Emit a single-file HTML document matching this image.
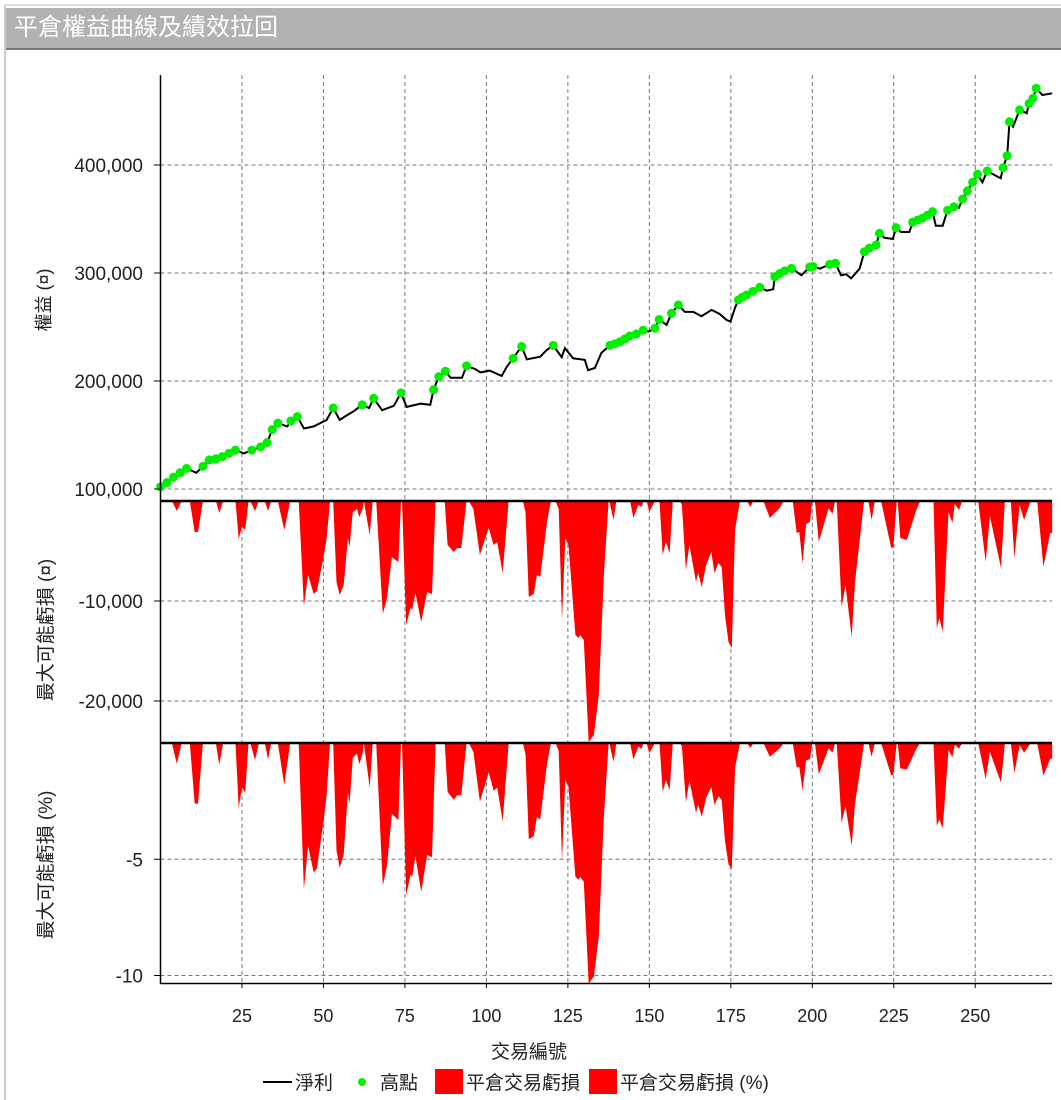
<!DOCTYPE html>
<html><head><meta charset="utf-8">
<style>
body{margin:0;background:#fff;width:1061px;height:1100px;overflow:hidden;font-family:"Liberation Sans","Noto Sans CJK TC",sans-serif;}
#title{position:absolute;left:6px;top:8px;width:1055px;height:42px;background:#b2b2b2;border-bottom:2px solid #777;color:#fff;font-size:24px;line-height:40px;padding-left:8px;box-sizing:border-box;font-family:"Liberation Sans","Noto Sans CJK TC",sans-serif;}
#frame{position:absolute;left:4px;top:4px;width:1057px;height:1096px;border-left:2px solid #ccc;border-top:2px solid #ddd;box-sizing:border-box;}
svg{position:absolute;left:0;top:0}
text{font-family:"Liberation Sans","Noto Sans CJK TC",sans-serif;fill:#222}
</style></head><body>
<div id="frame"></div>
<div id="title">平倉權益曲線及績效拉回</div>
<svg id="chart" width="1061" height="1100"></svg>
<script>
const xTicks=[25,50,75,100,125,150,175,200,225,250];
const eqTicks=[100000,200000,300000,400000];
const eqTickLabels=["100,000","200,000","300,000","400,000"];
const ddTicks=[-10000,-20000];
const ddTickLabels=["-10,000","-20,000"];
const pctTicks=[-5,-10];
const pctTickLabels=["-5","-10"];
const eqTrade=[0,2,4,6,8,11,13,15,17,19,21,23,25.6,28,30.7,32.7,34.3,36,38.9,40,42,44,47,51,53,55,57,59.3,61.9,64,65.4,68,71.6,73.8,75.5,79.8,82.8,83.8,85.4,87.4,89,92.5,93.9,96.6,98.2,101,104.7,106.2,108.2,110.8,112.4,116.5,118.5,120.5,123.1,124.1,126.6,130.2,131.2,133.3,135.3,137.9,139.5,141,142.5,144,146,148.1,149.7,151.7,153,155.3,156.8,158.9,160.9,163.5,166,169.1,171.6,173.7,174.9,176.3,177.3,178.5,179.8,181.8,183.9,186,188,188.5,190,191.5,193.6,196.7,199.2,200.2,202.3,205.3,207.1,208.8,210.4,211.9,214.5,216,217.5,219.6,220.6,222.1,224.7,225.7,227.2,229.8,230.8,232.3,233.8,235.3,236.9,237.9,240,241.5,243.5,245,246.1,247.6,249.2,250.7,252.2,253.7,255.8,257.8,258.5,259.8,260.5,261.6,263.6,265.8,266.5,267.7,268.7,270.6,273.6];
const eqValue=[102000,106000,111000,115000,119000,115000,121000,127000,128000,130000,133000,136000,133000,136000,139000,143000,155000,161000,158000,163000,167000,156000,158000,164000,175000,164000,168000,172000,178000,175000,184000,173000,177000,189000,176000,179000,178000,192000,204000,209000,203000,203000,214000,211000,208000,209600,204600,213000,221000,232000,220000,222500,228700,233000,222000,230500,221000,219500,210000,212000,226000,233000,234500,236400,239000,241700,243500,247000,245700,248800,257000,251900,262700,270400,264000,264000,260000,265800,262000,256500,255000,268000,275000,277500,279600,283000,286700,283600,285000,296600,299500,302000,304300,298000,305500,306000,304000,308000,309000,298000,298800,295000,304000,319700,323000,326000,336800,332700,331500,342000,338000,338000,347000,349000,350700,353500,356800,343800,343800,358000,361400,360500,368500,376000,384000,391400,384000,394500,390800,387700,397500,408600,440000,435500,451000,448000,457000,461800,471000,464800,466400];
const ddTrade=[0,3.5,5,6.5,9,10.5,11.5,13,17,18,19.2,23,24,25,26,27,27.6,29,30.2,32,33,34,36,38,39.8,42.4,44,45.3,47,48,50,51,52,53,54,55,56.2,57.5,58,59,60.3,61,62,62.4,64.2,65.1,66.2,68.2,69.5,71,73,73.8,74.1,75.4,76.7,77.2,78.2,80,81.8,83.3,84.4,87.2,88.1,90,91,92.3,93.9,94.6,96,98,100.7,102.2,103.3,105,106.8,111.2,112,113,114.5,115.5,116.5,118.6,119.8,121.2,122.2,123.2,124.2,125.2,127.3,128.3,128.8,129.9,131.4,133,134.5,136,137.5,137.7,139,139.9,144.1,145.1,146.6,147.7,148.1,149.2,150,151.7,153.1,154.1,155.1,156.2,157.2,159.4,160,161.2,162.3,164.3,165,166.1,167.4,169,170,171.2,172.2,173.2,174.3,175.3,176.3,177.8,180,181,181.9,185,187,190,191.2,194,195.2,196,197,198.1,199.3,200,200.8,202,205,206.2,207,207.5,209,210.2,212.1,213.1,215.9,217.2,218.2,219.2,221.1,224.2,224.9,225.9,226.2,227,229,231.9,233.1,237.2,238.2,239,240,241.8,243,243.7,245,246,250.9,253.2,254.5,257.9,259.1,260.9,262,263.6,265,267,269,270.9,273,273.6];
const ddValue=[0,0,-1000,0,0,-3100,-3100,0,0,-1200,0,0,-3800,-2600,-2900,0,0,-1000,0,0,-1000,0,0,-2900,0,0,-10500,-7400,-9300,-9000,-5700,-3700,0,0,-8100,-9400,-8400,-3700,-4600,-1100,-800,-1600,-800,0,-3400,0,0,-11300,-9700,-5600,-6100,0,0,-12400,-10700,-10900,-9200,-12100,-9100,-9300,0,0,-4400,-5100,-4700,-4700,0,0,-800,-5400,-2700,-4400,-4100,-7200,0,0,-1100,-9600,-9300,-7400,-7600,-2100,0,0,-800,-11900,-3700,-4400,-13400,-13700,-13400,-13900,-24100,-23400,-19400,-7700,0,0,-1900,0,0,-1700,-400,-600,0,0,-1100,0,0,-5400,-4100,-5200,0,0,-400,-6900,-4400,-8100,-7200,-8600,-6400,-5100,-7200,-6200,-6600,-11400,-14100,-14700,-2800,0,0,-600,0,0,-1700,-700,0,0,-3200,-3100,-6200,-2300,-2100,0,0,-4100,-700,-1300,0,0,-10600,-8400,-13600,-8100,0,0,-1900,0,0,-4700,-4600,0,0,-3700,-3900,-900,0,0,-12700,-11700,-13100,-1100,-2200,-300,-900,0,0,-6100,-1500,-6700,0,0,-5700,-400,-1900,0,0,-6600,-3200,-3200];

const NS="http://www.w3.org/2000/svg";
const svg=document.getElementById('chart');
const L=160.5,R=1052;
const X=t=>L+t*3.259;
const Yeq=v=>489-(v-100000)*108/100000;
const Ydd=v=>501-v*0.01;
const Ypct=v=>743-v*23.25;
function mk(tag,attrs,parent){const e=document.createElementNS(NS,tag);for(const k in attrs)e.setAttribute(k,attrs[k]);(parent||svg).appendChild(e);return e;}
function peakAt(t){let m=0;for(let i=0;i<eqTrade.length&&eqTrade[i]<=t;i++)m=Math.max(m,eqValue[i]);return m||eqValue[0];}

// grid
const grid=mk('g',{});


xTicks.forEach(t=>{mk('line',{x1:X(t),x2:X(t),y1:75,y2:983,stroke:'#777','stroke-dasharray':'4,3','stroke-width':1},grid);});
eqTicks.forEach(v=>{mk('line',{x1:L,x2:R,y1:Yeq(v),y2:Yeq(v),stroke:'#777','stroke-dasharray':'4,3'},grid);});
ddTicks.forEach(v=>{mk('line',{x1:L,x2:R,y1:Ydd(v),y2:Ydd(v),stroke:'#777','stroke-dasharray':'4,3'},grid);});
pctTicks.forEach(v=>{mk('line',{x1:L,x2:R,y1:Ypct(v),y2:Ypct(v),stroke:'#777','stroke-dasharray':'4,3'},grid);});

// drawdown areas
let d='M'+X(ddTrade[0])+','+Ydd(0);
ddTrade.forEach((t,i)=>{d+=' L'+X(t).toFixed(1)+','+Ydd(ddValue[i]).toFixed(1);});
d+=' L'+X(ddTrade[ddTrade.length-1])+','+Ydd(0)+'Z';
const dd=mk('path',{d:d,fill:'#ff0000'});


let p='M'+X(ddTrade[0])+','+Ypct(0);
ddTrade.forEach((t,i)=>{p+=' L'+X(t).toFixed(1)+','+Ypct(ddValue[i]/peakAt(t)*100).toFixed(1);});
p+=' L'+X(ddTrade[ddTrade.length-1])+','+Ypct(0)+'Z';
const pc=mk('path',{d:p,fill:'#ff0000'});



// equity line
const pts=eqTrade.map((t,i)=>X(t).toFixed(1)+','+Yeq(eqValue[i]).toFixed(1)).join(' ');
const ln=mk('polyline',{points:pts,fill:'none',stroke:'#000','stroke-width':2});


let mx=-1;
eqTrade.forEach((t,i)=>{if(eqValue[i]>=mx){mx=eqValue[i];
 const c=mk('circle',{cx:X(t),cy:Yeq(eqValue[i]),r:4.5,fill:'#00ee00'});
 
 }});

// axes
mk('line',{x1:L,x2:L,y1:75,y2:984,stroke:'#000','stroke-width':1.5});
mk('line',{x1:L,x2:R,y1:983.5,y2:983.5,stroke:'#000','stroke-width':1.5});
mk('line',{x1:L,x2:R,y1:501,y2:501,stroke:'#000','stroke-width':2.5});
mk('line',{x1:L,x2:R,y1:743,y2:743,stroke:'#000','stroke-width':2.5});

function lab(x,y,s,anchor,size,name,rot){const e=mk('text',{x:x,y:y,'font-size':size,'text-anchor':anchor});e.textContent=s;
 if(rot)e.setAttribute('transform','rotate(-90 '+x+' '+y+')');
 
 return e;}
xTicks.forEach(t=>{mk('line',{x1:X(t),x2:X(t),y1:983,y2:988,stroke:'#000'});lab(X(t),1022,String(t),'middle',18,'x-tick-label');});
eqTicks.forEach((v,i)=>{mk('line',{x1:154,x2:L,y1:Yeq(v),y2:Yeq(v),stroke:'#000'});lab(143,Yeq(v)+7,eqTickLabels[i],'end',19,'y-tick-label');});
ddTicks.forEach((v,i)=>{mk('line',{x1:154,x2:L,y1:Ydd(v),y2:Ydd(v),stroke:'#000'});lab(143,Ydd(v)+7,ddTickLabels[i],'end',19,'dd-tick-label');});
pctTicks.forEach((v,i)=>{mk('line',{x1:154,x2:L,y1:Ypct(v),y2:Ypct(v),stroke:'#000'});lab(143,Ypct(v)+7,pctTickLabels[i],'end',19,'pct-tick-label');});
lab(50,300,'權益 (¤)','middle',18,'y-axis-title',true);
lab(52,630,'最大可能虧損 (¤)','middle',19,'dd-axis-title',true);
lab(52,865,'最大可能虧損 (%)','middle',19,'pct-axis-title',true);
lab(529,1058,'交易編號','middle',19,'x-axis-title');

// legend
const lg=mk('g',{});


mk('line',{x1:263,x2:292,y1:1082,y2:1082,stroke:'#000','stroke-width':2},lg);
lab(295,1089,'淨利','start',19,'legend-net-profit');
mk('circle',{cx:362,cy:1082,r:4,fill:'#00ee00'},lg);
lab(380,1089,'高點','start',19,'legend-high-point');
mk('rect',{x:435,y:1069,width:28,height:25,fill:'#ff0000'},lg);
lab(466,1089,'平倉交易虧損','start',19,'legend-drawdown');
mk('rect',{x:589,y:1069,width:28,height:25,fill:'#ff0000'},lg);
lab(620,1089,'平倉交易虧損 (%)','start',19,'legend-drawdown-pct');
</script>
</body></html>
